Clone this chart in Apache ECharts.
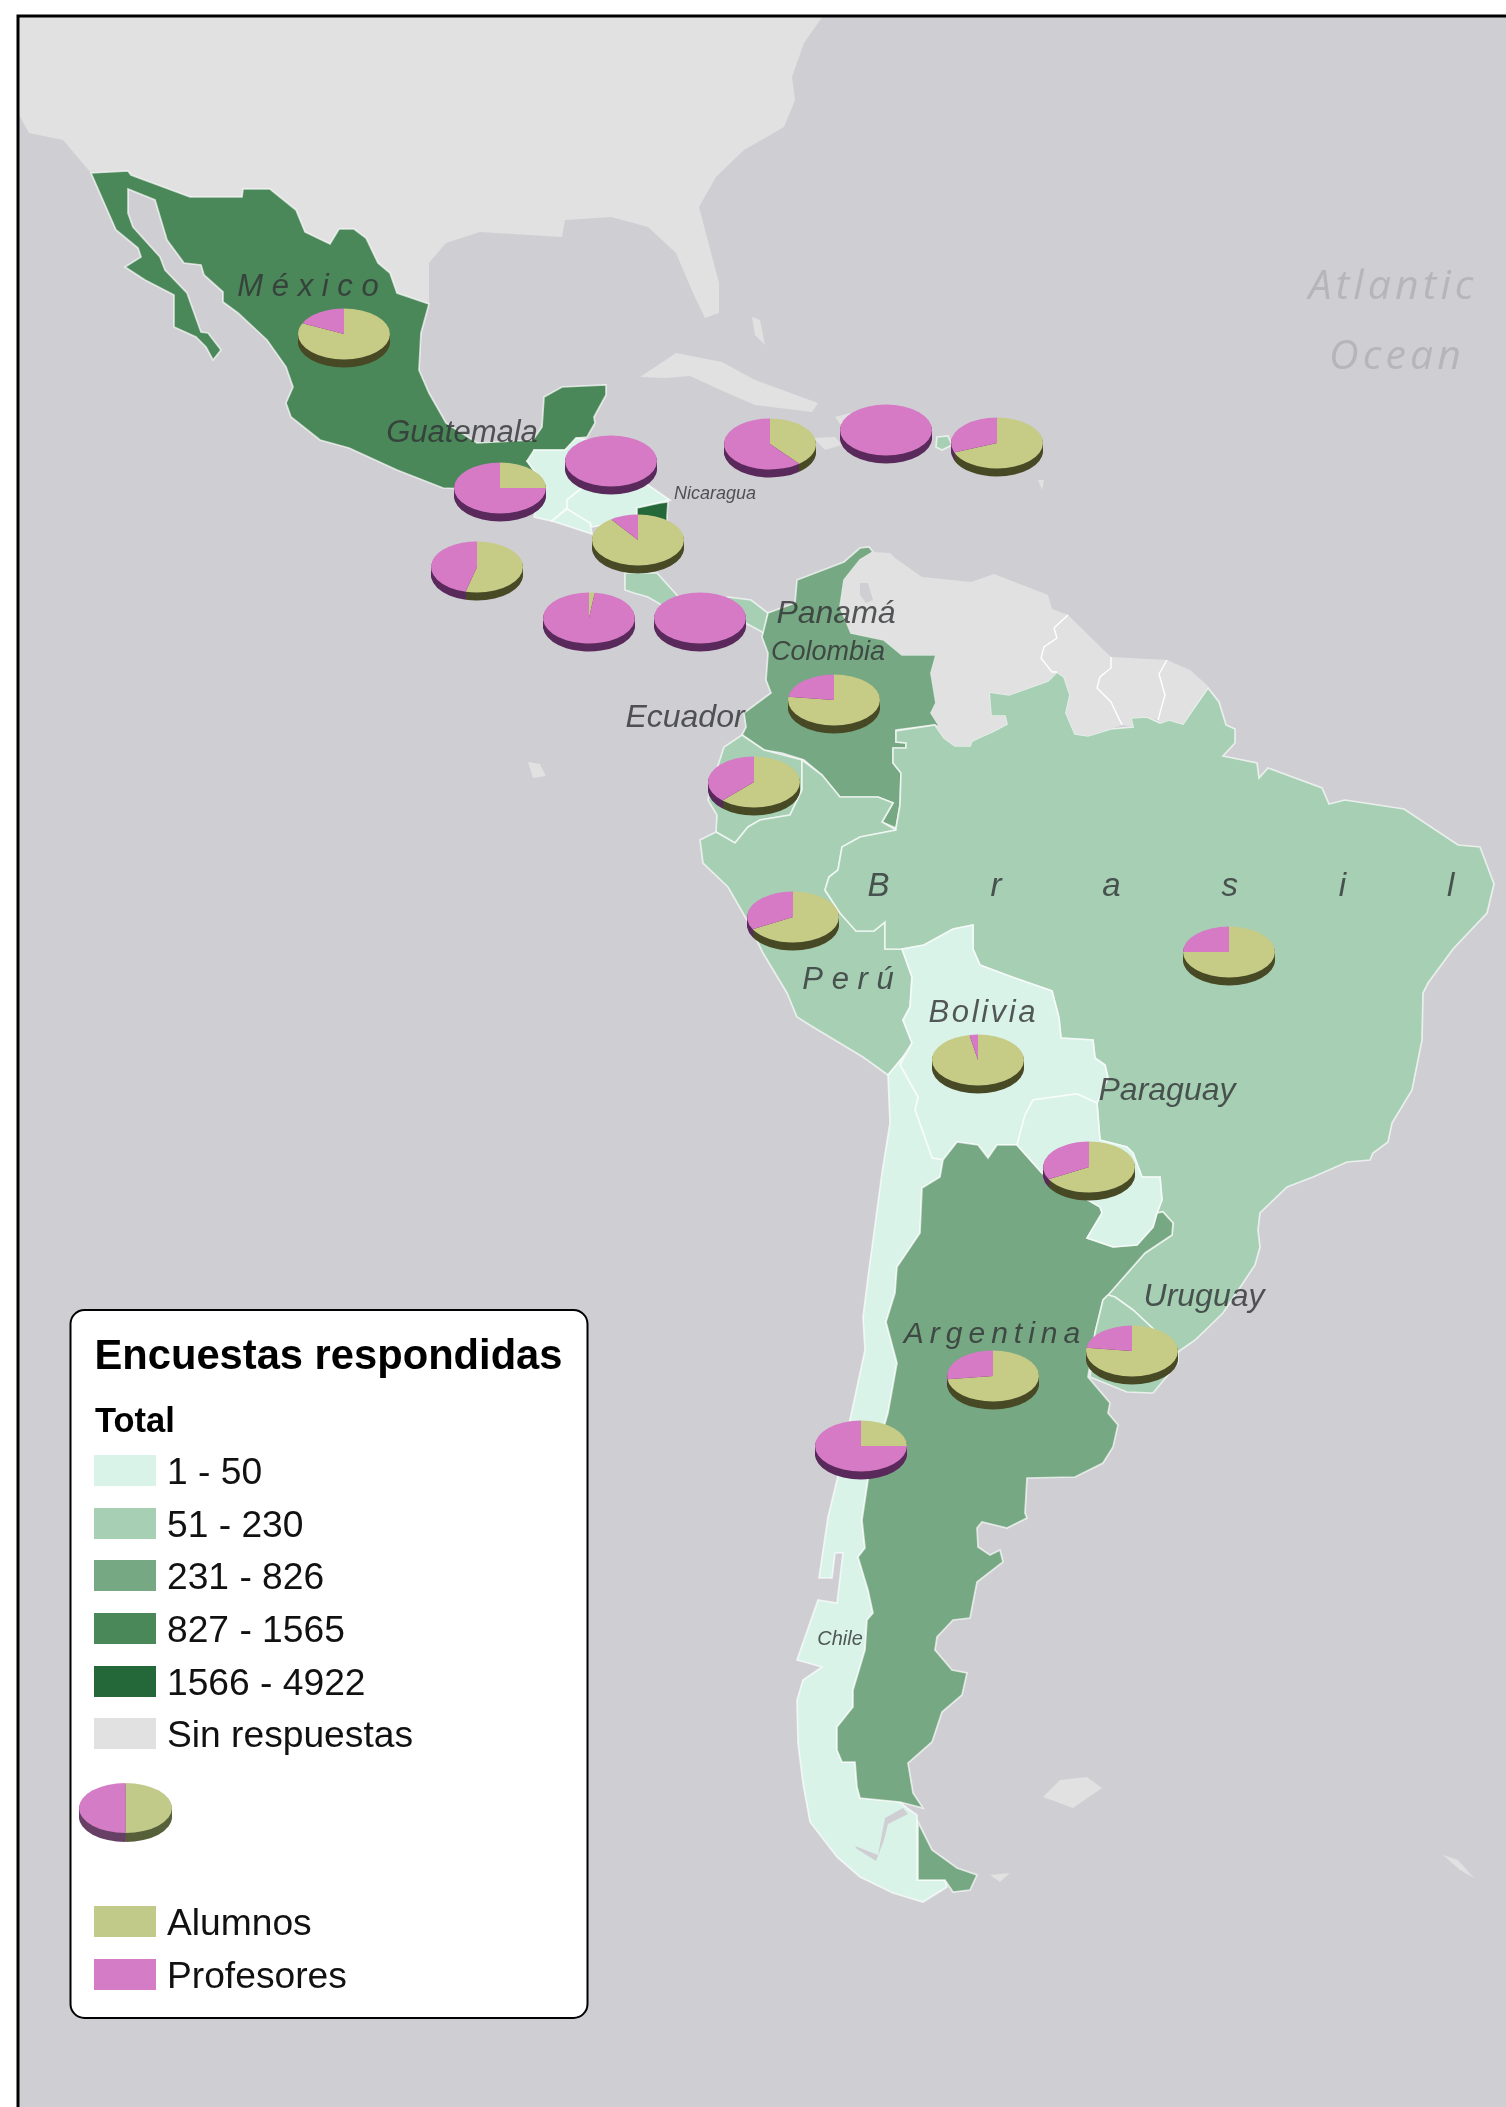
<!DOCTYPE html>
<html>
<head>
<meta charset="utf-8">
<style>html,body{margin:0;padding:0;background:#fff}#c{width:1506px;height:2107px}</style>
<script src="https://cdn.jsdelivr.net/npm/echarts@6/dist/echarts.min.js"></script>
</head>
<body>
<div id="c"></div>
<script>
// ---- legend classes ----
const classLabels = ['1 - 50', '51 - 230', '231 - 826', '827 - 1565', '1566 - 4922', 'Sin respuestas'];
const classColors = ['#d9f3e9', '#a6cfb4', '#76a883', '#4a8759', '#24683a', '#e1e1e2'];
const oceanColor = '#cfced3';
const sliceLabels = ['Alumnos', 'Profesores'];
const sliceColors = ['#c6cc85', '#d67ac5'];
const sliceEdgeColors = ['#484a26', '#5a2a5c'];

// ---- country -> class index ----
const countryNames = ['Mexico','Guatemala','Honduras','ElSalvador','Nicaragua','CostaRica','Panama','Colombia','Ecuador','Peru','Brasil','Bolivia','Chile','Argentina','Paraguay','Uruguay','PuertoRico'];
const countryClass = [3,0,0,0,4,1,1,2,1,1,1,0,0,2,0,1,1];
const noDataNames = ['Tierra','Venezuela','Guyana','Suriname','GuayanaFr'];

// ---- pie values (percent), in drawing order ----
const pieSites = [[344,334],[500,488],[611,461],[638,540],[477,567],[589,618],[700,618],[770,444],[886,430],[997,443],[834,700],[754,782],[793,917],[1229,952],[978,1060],[1089,1167],[1132,1351],[993,1376],[861,1446]];
const pieAlumnos = [82,25,0,90,54,2,0,39,0,69,77,62,67,75,97,67,77,73,25];
const pieProfesores = [18,75,100,10,46,98,100,61,100,31,23,38,33,25,3,33,23,27,75];

// ---- map labels ----
const labelTexts = ['M é x i c o','Guatemala','Nicaragua','Panamá','Colombia','Ecuador',
  'B           r           a           s           i           l',
  'P e r ú','B\u200Ao\u200Al\u200Ai\u200Av\u200Ai\u200Aa','Paraguay','Uruguay','A\u2009r\u2009g\u2009e\u2009n\u2009t\u2009i\u2009n\u2009a','Chile'];
const labelSites = [[308,287],[462,433],[715,494],[836,614],[828,652],[685,718],[1161,887],[848,980],[982,1013],[1167,1091],[1204,1297],[992,1335],[840,1639]];
const labelSizes = [31,31,18,32,27,32,33,31,31,32,32,30,20];

// ---- traced outlines (map units) ----
const outlines = {
 Tierra: [
  [[18,16],[823,16],[804,43],[792,77],[795,100],[784,127],[744,150],[716,177],[699,207],[719,283],[719,313],[705,318],[693,293],[676,253],[648,227],[611,217],[565,220],[562,237],[480,232],[446,243],[429,263],[429,304],[397,293],[390,273],[378,263],[366,238],[354,229],[339,229],[330,244],[305,232],[296,210],[270,189],[243,189],[242,197],[190,197],[131,175],[128,171],[91,173],[63,140],[29,133],[18,113]],
  [[640,377],[676,353],[722,362],[755,380],[818,403],[812,412],[755,405],[725,392],[690,376],[665,378]],
  [[835,417],[850,413],[857,425],[840,424]],[[813,438],[835,437],[842,445],[825,450]],
  [[752,317],[760,320],[765,345],[755,335]],
  [[528,762],[540,764],[546,776],[533,778]],
  [[1043,1797],[1060,1780],[1087,1777],[1102,1788],[1073,1808]],
  [[1443,1855],[1458,1860],[1474,1878],[1460,1870]],
  [[990,1875],[1010,1873],[1000,1882]],[[1038,480],[1044,480],[1042,490]]
 ],
 Mexico: [[[91,173],[128,171],[131,175],[190,197],[242,197],[243,189],[270,189],[296,210],[305,232],[330,244],[339,229],[354,229],[366,238],[378,263],[390,273],[397,293],[429,304],[421,333],[419,370],[429,393],[446,423],[477,443],[533,440],[542,427],[544,397],[562,387],[606,385],[606,395],[594,417],[595,423],[587,437],[577,438],[565,450],[534,450],[534,458],[527,461],[541,480],[490,490],[443,488],[397,470],[349,448],[320,440],[291,417],[286,403],[293,387],[286,367],[267,340],[238,313],[223,302],[223,292],[204,275],[201,265],[184,263],[167,240],[155,200],[128,189],[128,213],[133,227],[160,257],[165,270],[187,293],[201,332],[208,333],[221,350],[213,360],[206,347],[196,337],[174,327],[174,295],[145,280],[125,267],[141,257],[138,248],[116,230]]],
 Guatemala: [[[534,450],[565,450],[576,438],[590,440],[590,467],[582,488],[567,500],[567,508],[552,521],[534,517],[541,480],[527,461]]],
 Honduras: [[[590,440],[615,445],[648,485],[670,500],[637,508],[637,517],[612,523],[592,527],[590,523],[567,509],[567,500],[582,488],[590,467]]],
 ElSalvador: [[[552,521],[567,509],[590,523],[592,534]]],
 Nicaragua: [[[637,508],[660,503],[668,502],[667,517],[668,560],[610,560],[637,517]]],
 CostaRica: [[[625,573],[657,573],[675,593],[690,610],[670,610],[648,597],[634,593],[625,590]]],
 Panama: [[[690,605],[728,597],[751,600],[768,613],[764,633],[753,627],[740,620],[700,625]]],
 Colombia: [[[869,547],[873,552],[860,560],[844,580],[840,607],[851,633],[884,640],[902,655],[936,655],[931,673],[936,703],[931,713],[940,727],[934,725],[896,730],[896,742],[906,743],[906,748],[893,748],[893,763],[901,773],[900,805],[896,828],[882,822],[893,803],[878,797],[840,797],[822,775],[804,760],[782,753],[764,750],[742,735],[746,727],[744,713],[771,693],[766,680],[768,653],[762,637],[768,613],[795,603],[797,580],[844,562],[860,548]]],
 Ecuador: [[[742,735],[764,750],[802,760],[802,790],[790,815],[760,820],[748,827],[735,843],[716,832],[717,815],[708,800],[715,775],[724,747]]],
 Peru: [[[802,760],[822,775],[840,797],[878,797],[893,803],[882,822],[896,830],[860,837],[842,847],[838,870],[829,877],[825,890],[840,913],[856,931],[874,931],[885,922],[885,949],[902,949],[912,977],[910,1007],[903,1020],[912,1043],[903,1057],[888,1075],[863,1057],[813,1027],[797,1017],[787,993],[763,953],[747,920],[728,887],[703,863],[700,840],[716,832],[735,843],[748,827],[760,820],[790,815],[802,790]]],
 Brasil: [[[896,731],[935,725],[944,738],[955,746],[970,746],[972,741],[994,731],[1007,724],[1005,716],[991,716],[989,691],[982,691],[1009,695],[1048,681],[1057,672],[1064,677],[1070,695],[1066,713],[1075,734],[1088,736],[1111,729],[1133,727],[1131,718],[1147,717],[1160,723],[1169,720],[1183,724],[1208,688],[1219,702],[1226,725],[1235,729],[1235,743],[1223,756],[1257,763],[1259,778],[1268,768],[1322,788],[1329,804],[1345,800],[1404,809],[1458,845],[1480,847],[1494,884],[1487,913],[1453,949],[1428,983],[1423,993],[1422,1040],[1412,1090],[1392,1123],[1388,1142],[1373,1153],[1370,1160],[1347,1162],[1313,1177],[1287,1187],[1260,1213],[1258,1230],[1260,1247],[1255,1265],[1223,1313],[1195,1340],[1178,1352],[1133,1310],[1115,1297],[1108,1295],[1145,1253],[1172,1235],[1173,1223],[1163,1212],[1157,1213],[1162,1200],[1160,1177],[1142,1177],[1133,1153],[1127,1147],[1100,1140],[1097,1103],[1108,1078],[1105,1065],[1095,1058],[1093,1040],[1061,1038],[1059,1018],[1052,991],[1012,977],[980,965],[973,949],[973,925],[953,929],[924,945],[902,949],[885,949],[885,922],[874,931],[856,931],[840,913],[825,890],[829,877],[838,870],[842,847],[860,837],[896,830],[896,828],[900,805],[901,773],[893,763],[893,748],[906,748],[906,743],[896,742]]],
 Bolivia: [[[902,949],[924,945],[953,929],[973,925],[973,949],[980,965],[1012,977],[1052,991],[1059,1018],[1061,1038],[1093,1040],[1095,1058],[1105,1065],[1108,1078],[1097,1103],[1077,1094],[1033,1100],[1025,1115],[1017,1145],[997,1145],[988,1158],[978,1145],[957,1142],[943,1160],[932,1158],[915,1110],[918,1097],[910,1083],[900,1065],[912,1043],[903,1020],[910,1007],[912,977]]],
 Chile: [[[888,1075],[903,1057],[900,1065],[910,1083],[918,1097],[915,1110],[932,1158],[943,1160],[940,1177],[922,1188],[920,1233],[897,1267],[895,1293],[886,1322],[897,1363],[888,1413],[868,1480],[862,1520],[865,1548],[858,1557],[868,1590],[873,1613],[867,1620],[865,1650],[853,1690],[853,1707],[837,1727],[837,1750],[842,1762],[855,1762],[857,1787],[860,1798],[900,1802],[907,1808],[917,1815],[917,1880],[945,1880],[947,1887],[923,1902],[893,1893],[860,1877],[837,1857],[810,1822],[803,1783],[798,1743],[797,1700],[803,1680],[822,1667],[797,1660],[818,1600],[837,1603],[843,1553],[835,1553],[832,1578],[819,1578],[828,1517],[837,1480],[865,1350],[863,1317],[868,1277],[882,1173],[890,1123]]],
 Argentina: [
  [[957,1142],[978,1145],[988,1158],[997,1145],[1017,1145],[1042,1173],[1100,1207],[1102,1213],[1087,1238],[1113,1247],[1137,1245],[1153,1227],[1157,1213],[1163,1212],[1173,1223],[1172,1235],[1145,1253],[1108,1295],[1103,1300],[1095,1333],[1088,1377],[1110,1403],[1108,1413],[1118,1425],[1113,1447],[1103,1463],[1075,1477],[1027,1478],[1025,1513],[1027,1518],[1007,1528],[982,1522],[977,1528],[978,1547],[990,1555],[1000,1550],[1003,1562],[977,1582],[970,1618],[953,1620],[937,1637],[935,1650],[952,1670],[967,1673],[962,1695],[942,1712],[932,1742],[908,1763],[913,1793],[923,1808],[900,1802],[860,1798],[857,1787],[855,1762],[842,1762],[837,1750],[837,1727],[853,1707],[853,1690],[865,1650],[867,1620],[873,1613],[868,1590],[858,1557],[865,1548],[862,1520],[868,1480],[888,1413],[897,1363],[886,1322],[895,1293],[897,1267],[920,1233],[922,1188],[940,1177],[943,1160]],
  [[918,1822],[932,1850],[957,1868],[977,1875],[970,1890],[953,1892],[945,1880],[918,1880]]
 ],
 Paraguay: [[[1097,1103],[1077,1094],[1033,1100],[1025,1115],[1017,1145],[1042,1173],[1100,1207],[1102,1213],[1087,1238],[1113,1247],[1137,1245],[1153,1227],[1157,1213],[1162,1200],[1160,1177],[1142,1177],[1133,1153],[1127,1147],[1100,1140]]],
 Uruguay: [[[1108,1295],[1115,1297],[1133,1310],[1178,1352],[1178,1363],[1153,1393],[1127,1392],[1090,1377],[1095,1333],[1103,1300]]],
 Venezuela: [[[860,560],[873,552],[890,553],[895,558],[922,577],[971,582],[994,574],[1048,595],[1052,609],[1068,615],[1054,628],[1057,638],[1044,647],[1041,658],[1052,672],[1057,672],[1048,681],[1009,695],[982,691],[989,691],[991,716],[1005,716],[1007,724],[994,731],[972,741],[970,746],[955,746],[944,738],[935,725],[940,727],[931,713],[936,703],[931,673],[936,655],[902,655],[884,640],[851,633],[840,607],[844,580]]],
 Guyana: [[[1068,615],[1111,657],[1111,668],[1100,677],[1097,688],[1111,702],[1122,725],[1111,729],[1088,736],[1075,734],[1066,713],[1070,695],[1064,677],[1057,672],[1052,672],[1041,658],[1044,647],[1057,638],[1054,628]]],
 Suriname: [[[1111,657],[1167,660],[1159,674],[1165,695],[1158,720],[1147,717],[1131,718],[1133,727],[1122,725],[1111,702],[1097,688],[1100,677],[1111,668]]],
 GuayanaFr: [[[1167,660],[1190,670],[1208,686],[1183,724],[1169,720],[1160,723],[1158,720],[1165,695],[1159,674]]],
 PuertoRico: [[[937,437],[948,436],[952,445],[942,450],[936,447]]],
 Lago: [[[860,583],[868,583],[873,600],[866,603],[860,595]]],
 Canal: [[[903,1808],[885,1818],[878,1855],[855,1846],[857,1849],[876,1861],[884,1840],[888,1824],[908,1814]]]
};
// inland borders between no-data countries: thin lines, not coast
const noDataBorders = [
  [[1068,615],[1054,628],[1057,638],[1044,647],[1041,658],[1052,672],[1057,672]],
  [[1111,657],[1111,668],[1100,677],[1097,688],[1111,702],[1122,725]],
  [[1167,660],[1159,674],[1165,695],[1158,720]]
];

const features = Object.keys(outlines).map(name => ({
  type: 'Feature',
  properties: { name },
  geometry: { type: 'MultiPolygon', coordinates: outlines[name].map(ring => [ring.concat([ring[0]])]) }
}));
features.push({
  type: 'Feature',
  properties: { name: 'Fronteras' },
  geometry: { type: 'MultiPolygon', coordinates: noDataBorders.map(l => [l.concat(l.slice().reverse())]) }
});
echarts.registerMap('latam', { type: 'FeatureCollection', features });

const regions = countryNames.map((name, i) => ({
  name,
  itemStyle: { areaColor: classColors[countryClass[i]], borderColor: 'rgba(255,255,255,0.68)', borderWidth: 1.7 }
}));
noDataNames.forEach(name => regions.push({ name, itemStyle: { areaColor: classColors[5], borderWidth: 0 } }));
regions.push({ name: 'Lago', itemStyle: { areaColor: oceanColor, borderWidth: 0 } });
regions.push({ name: 'Canal', itemStyle: { areaColor: oceanColor, borderWidth: 0 } });
regions.push({ name: 'Fronteras', itemStyle: { areaColor: 'transparent', borderColor: '#fff', borderWidth: 1.4 } });

// pie painter: stacked squashed sectors to give the tilted-disc look
function pieItem(edgeColors, topColors, rx, ry, depth) {
  return function (params, api) {
    const p = api.coord([api.value(0), api.value(1)]);
    const a = api.value(2), b = api.value(3);
    const start = -Math.PI / 2;
    const mid = start + (a / (a + b)) * Math.PI * 2;
    const end = start + Math.PI * 2;
    const layer = (colors, dy) => {
      const kids = [];
      if (a > 0) kids.push({ type: 'sector', shape: { cx: 0, cy: 0, r: rx, r0: 0, startAngle: start, endAngle: mid, clockwise: true }, style: { fill: colors[0] } });
      if (b > 0) kids.push({ type: 'sector', shape: { cx: 0, cy: 0, r: rx, r0: 0, startAngle: mid, endAngle: end, clockwise: true }, style: { fill: colors[1] } });
      return { type: 'group', y: dy, scaleY: ry / rx, children: kids };
    };
    const children = [];
    for (let d = depth; d >= 1; d--) children.push(layer(edgeColors, d));
    children.push(layer(topColors, 0));
    return { type: 'group', x: p[0], y: p[1], children };
  };
}

const FF = '"Liberation Sans", Arial, sans-serif';
const g = [];
g.push({ type: 'rect', z: -10, shape: { x: 18, y: 16, width: 1500, height: 2110 }, style: { fill: oceanColor } });
g.push({ type: 'rect', z: 4, shape: { x: 18, y: 16, width: 1500, height: 2110 }, style: { fill: 'none', stroke: '#000', lineWidth: 3 } });
g.push({ type: 'text', z: 1, x: 1391, y: 287, style: { text: 'A\u200At\u200Al\u200Aa\u200An\u200At\u200Ai\u200Ac', font: 'italic 41px "Open Sans", sans-serif', fill: '#b5b5ba', align: 'center', verticalAlign: 'middle' } });
g.push({ type: 'text', z: 1, x: 1395, y: 357, style: { text: 'O\u200Ac\u200Ae\u200Aa\u200An', font: 'italic 41px "Open Sans", sans-serif', fill: '#b5b5ba', align: 'center', verticalAlign: 'middle' } });
// legend panel
g.push({ type: 'rect', z: 5, shape: { x: 70.5, y: 1310, width: 517, height: 708, r: 14 }, style: { fill: '#fff', stroke: '#000', lineWidth: 2 } });
g.push({ type: 'text', z: 6, x: 94.5, y: 1358, style: { text: 'Encuestas respondidas', font: 'bold 41.7px ' + FF, fill: '#000', verticalAlign: 'middle' } });
g.push({ type: 'text', z: 6, x: 95, y: 1422, style: { text: 'Total', font: 'bold 34.5px ' + FF, fill: '#000', verticalAlign: 'middle' } });
const classRowY = [1455, 1508, 1560, 1613, 1666, 1718];
classLabels.forEach((t, i) => {
  g.push({ type: 'rect', z: 6, shape: { x: 94, y: classRowY[i], width: 62, height: 31 }, style: { fill: classColors[i] } });
  g.push({ type: 'text', z: 6, x: 167, y: classRowY[i] + 19, style: { text: t, font: '37.2px ' + FF, fill: '#111', verticalAlign: 'middle' } });
});
const sliceRowY = [1906, 1959];
sliceLabels.forEach((t, i) => {
  g.push({ type: 'rect', z: 6, shape: { x: 94, y: sliceRowY[i], width: 62, height: 31 }, style: { fill: ['#c2ca8a', '#d47cc5'][i] } });
  g.push({ type: 'text', z: 6, x: 167, y: sliceRowY[i] + 19, style: { text: t, font: '37.2px ' + FF, fill: '#111', verticalAlign: 'middle' } });
});

const chart = echarts.init(document.getElementById('c'), null, { renderer: 'canvas' });
chart.setOption({
  animation: false,
  backgroundColor: '#fff',
  graphic: { elements: g },
  geo: {
    map: 'latam', roam: false, silent: true,
    left: 0, top: 0, width: 1506, height: 2107,
    aspectScale: 1,
    boundingCoords: [[0, 0], [1506, 2107]],
    projection: { project: p => [p[0], p[1]], unproject: p => [p[0], p[1]] },
    label: { show: false },
    itemStyle: { areaColor: classColors[5], borderColor: '#fff', borderWidth: 1 },
    emphasis: { disabled: true },
    regions
  },
  series: [
    {
      type: 'custom', coordinateSystem: 'geo', z: 8, silent: true, clip: false,
      data: labelSites.map((s, i) => [s[0], s[1], i]),
      renderItem(params, api) {
        const p = api.coord([api.value(0), api.value(1)]);
        const i = api.value(2);
        return { type: 'text', x: p[0], y: p[1], style: { text: labelTexts[i], font: 'italic ' + labelSizes[i] + 'px ' + FF, fill: 'rgba(50,52,54,0.82)', align: 'center', verticalAlign: 'middle' } };
      }
    },
    {
      type: 'custom', coordinateSystem: 'geo', z: 10, silent: true, clip: false,
      data: pieSites.map((s, i) => [s[0], s[1], pieAlumnos[i], pieProfesores[i]]),
      renderItem: pieItem(sliceEdgeColors, sliceColors, 46, 25.5, 8)
    },
    {
      type: 'custom', coordinateSystem: 'geo', z: 10, silent: true, clip: false,
      data: [[125.5, 1808, 50, 50]],
      renderItem: pieItem(['#56603a', '#684066'], ['#c2ca8a', '#d47cc5'], 46.5, 25, 9)
    }
  ]
});
</script>
</body>
</html>
